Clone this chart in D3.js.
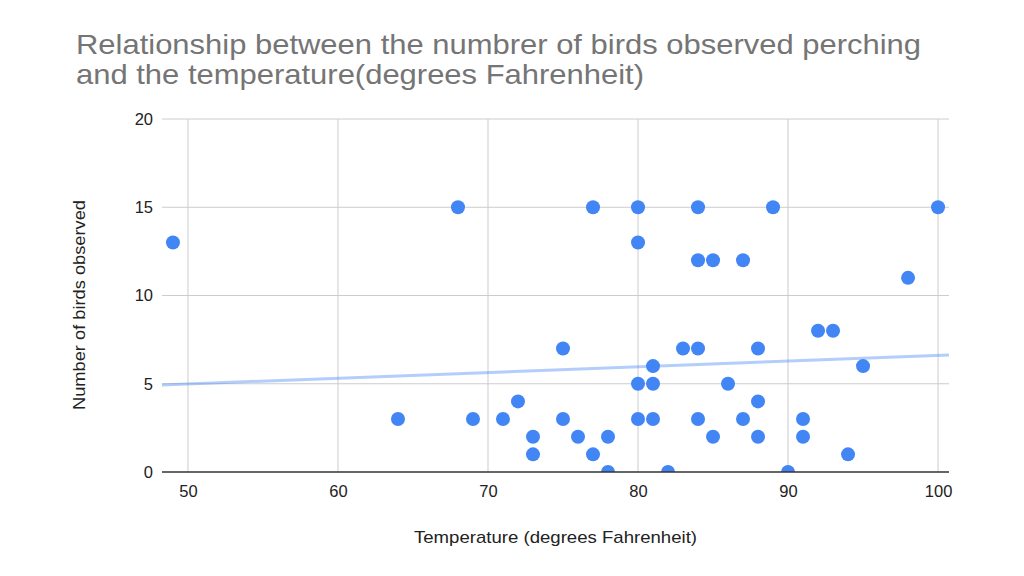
<!DOCTYPE html>
<html>
<head>
<meta charset="utf-8">
<script src="https://cdn.jsdelivr.net/npm/d3@7"></script>
<style>
  body { margin: 0; background: #fff; }
  text { font-family: Arial, "Liberation Sans", sans-serif; }
</style>
</head>
<body>
<div id="chart"></div>
<script>
// temperature (F) and birds observed perching
const temperature = [49, 64, 68, 69, 71, 72, 73, 73, 75, 75, 76, 77, 77, 78, 78,
    80, 80, 80, 80, 81, 81, 81, 82, 83, 84, 84, 84, 84, 85, 85, 86, 87, 87,
    88, 88, 88, 89, 90, 91, 91, 92, 93, 94, 95, 98, 100];
const birds = [13, 3, 15, 3, 3, 4, 2, 1, 7, 3, 2, 15, 1, 2, 0,
    15, 13, 5, 3, 6, 5, 3, 0, 7, 15, 12, 7, 3, 12, 2, 5, 12, 3,
    7, 4, 2, 15, 0, 3, 2, 8, 8, 1, 6, 11, 15];
// linear trendline as shown: [intercept, slope]
const trend = [3.37, 0.0324];
const xTicks = [50, 60, 70, 80, 90, 100];
const yTicks = [0, 5, 10, 15, 20];
const titleLines = ["Relationship between the numbrer of birds observed perching",
    "and the temperature(degrees Fahrenheit)"];

const W = 1024, H = 576;
const margin = { top: 119, right: 75, bottom: 104, left: 162 };
const width = W - margin.left - margin.right,
    height = H - margin.top - margin.bottom;

const svg = d3.select("#chart").append("svg")
    .attr("width", W)
    .attr("height", H);

// title (the original is rendered a bit wider than plain Arial)
const titleWidths = [845, 568];
const title = svg.append("g").attr("fill", "#757575").attr("font-size", 28.5);
title.selectAll("text")
    .data(titleLines)
    .enter().append("text")
    .attr("x", 76)
    .attr("y", (d, i) => 54 + i * 30)
    .attr("textLength", (d, i) => titleWidths[i])
    .attr("lengthAdjust", "spacingAndGlyphs")
    .text(d => d);

const g = svg.append("g")
    .attr("transform", "translate(" + margin.left + "," + margin.top + ")");

const x = d3.scaleLinear().domain([48.27, 100.73]).range([0, width]);
const y = d3.scaleLinear().domain([0, 20]).range([height, 0]);

// gridlines
g.append("g").selectAll("line")
    .data(yTicks.slice(1))
    .enter().append("line")
    .attr("x1", 0).attr("x2", width)
    .attr("y1", d => y(d)).attr("y2", d => y(d))
    .attr("stroke", "#cccccc");
g.append("g").selectAll("line")
    .data(xTicks)
    .enter().append("line")
    .attr("x1", d => x(d)).attr("x2", d => x(d))
    .attr("y1", 0).attr("y2", height)
    .attr("stroke", "#cccccc");

// axes (labels only)
const yAxis = g.append("g")
    .call(d3.axisLeft(y).tickValues(yTicks).tickSize(0).tickPadding(9));
const xAxis = g.append("g")
    .attr("transform", "translate(0," + height + ")")
    .call(d3.axisBottom(x).tickValues(xTicks).tickSize(0).tickPadding(13));
[xAxis, yAxis].forEach(a => {
    a.select(".domain").remove();
    a.selectAll("text")
        .attr("font-family", "Arial, 'Liberation Sans', sans-serif")
        .attr("font-size", 16.5)
        .attr("fill", "#222");
});

// clip so points on the baseline are cut like the original
g.append("defs").append("clipPath")
    .attr("id", "clip")
    .append("rect")
    .attr("x", 0).attr("y", -10)
    .attr("width", width).attr("height", height + 10);

const data = temperature.map((t, i) => ({ t: t, b: birds[i] }));
const plot = g.append("g").attr("clip-path", "url(#clip)");
const dom = x.domain();

plot.selectAll(".dot")
    .data(data)
    .enter().append("circle")
    .attr("class", "dot")
    .attr("cx", d => x(d.t))
    .attr("cy", d => y(d.b))
    .attr("r", 7)
    .attr("fill", "#4285f4");

plot.append("line")
    .attr("x1", x(dom[0])).attr("y1", y(trend[0] + trend[1] * dom[0]))
    .attr("x2", x(dom[1])).attr("y2", y(trend[0] + trend[1] * dom[1]))
    .attr("stroke", "#4285f4")
    .attr("stroke-opacity", 0.4)
    .attr("stroke-width", 3);

// baseline
g.append("line")
    .attr("x1", 0).attr("x2", width)
    .attr("y1", height).attr("y2", height)
    .attr("stroke", "#333")
    .attr("stroke-width", 1.5);

// axis titles
svg.append("text")
    .attr("x", margin.left + width / 2)
    .attr("y", 543)
    .attr("text-anchor", "middle")
    .attr("font-size", 17)
    .attr("fill", "#222")
    .attr("textLength", 283)
    .attr("lengthAdjust", "spacingAndGlyphs")
    .text("Temperature (degrees Fahrenheit)");
svg.append("text")
    .attr("transform", "translate(85,305) rotate(-90)")
    .attr("text-anchor", "middle")
    .attr("font-size", 17)
    .attr("fill", "#222")
    .attr("textLength", 210)
    .attr("lengthAdjust", "spacingAndGlyphs")
    .text("Number of birds observed");
</script>
</body>
</html>
